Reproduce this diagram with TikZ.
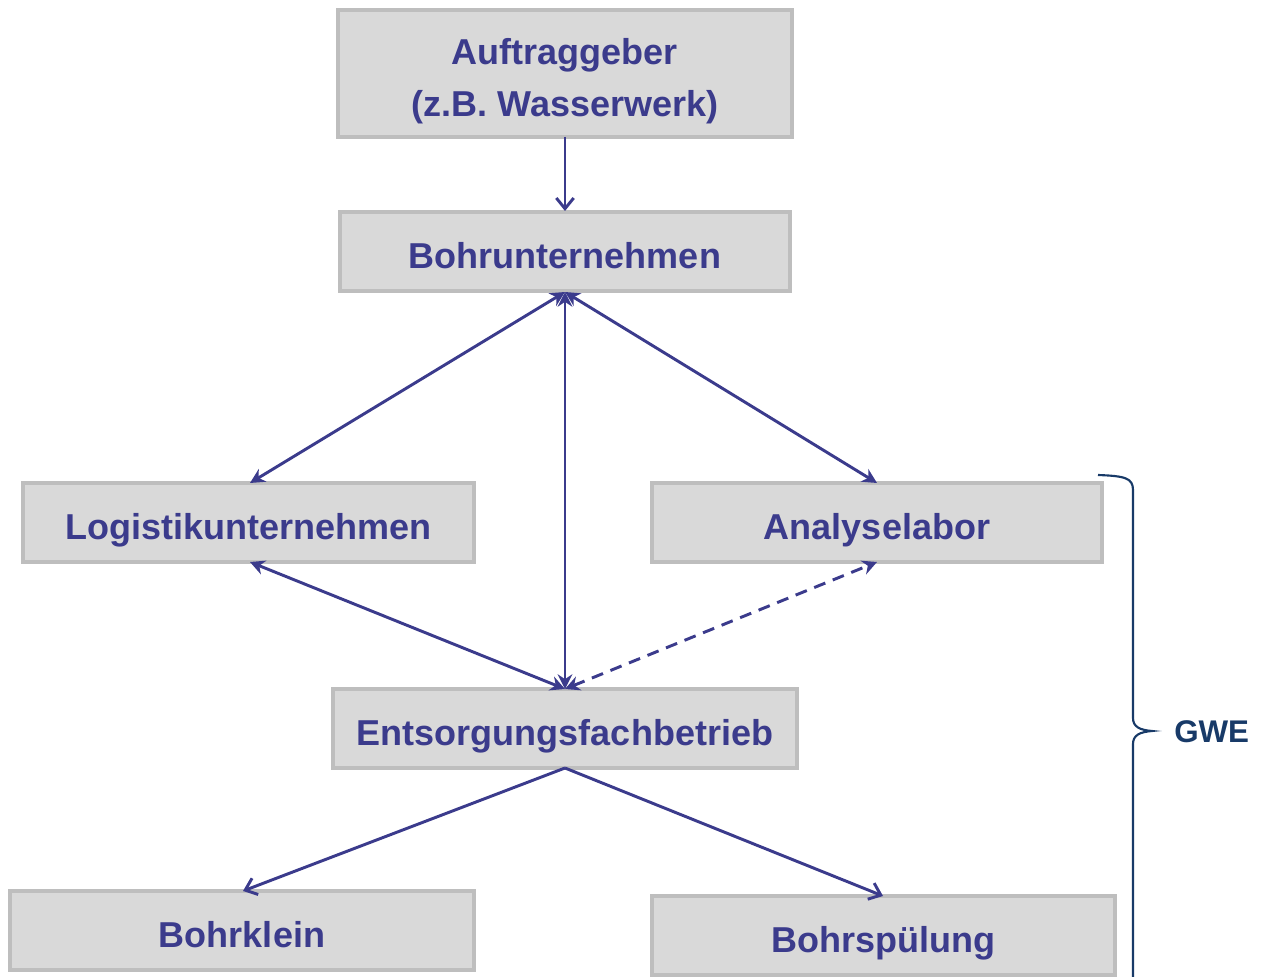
\documentclass[tikz,border=0pt]{standalone}
\usepackage{fontspec}
\setmainfont{Liberation Sans}
\usetikzlibrary{arrows.meta}
\definecolor{txtblue}{RGB}{59,59,140}
\definecolor{boxfill}{RGB}{217,217,217}
\definecolor{boxline}{RGB}{190,190,190}
\definecolor{navy}{RGB}{24,58,104}
\tikzset{
  box/.style={draw=boxline, line width=2.6pt, fill=boxfill, inner sep=0pt,
    text=txtblue, font=\fontsize{27}{39}\selectfont\bfseries, align=center,
    text height=25.6pt, text depth=0pt},
  conn/.style={draw=txtblue, line width=2.2pt},
  dhead/.style={{Stealth[length=11pt,width=11pt]}-{Stealth[length=11pt,width=11pt]}},
  vhead/.style={-{Straight Barb[length=8pt,width=13pt,line width=2.2pt]}},
}
\begin{document}
\begin{tikzpicture}[x=0.75pt,y=-0.75pt]
\useasboundingbox (0,0) rectangle (1265,977);
\clip (0,0) rectangle (1265,977);
\node[box, minimum width=454*0.75pt, minimum height=127*0.75pt, text height=65.2pt, text depth=0pt] (auf) at (565,73.5) {Auftraggeber\\(z.B. Wasserwerk)};
\node[box, minimum width=450*0.75pt, minimum height=79*0.75pt] (boh) at (565,251.5) {Bohrunternehmen};
\node[box, minimum width=451*0.75pt, minimum height=79*0.75pt] (log) at (248.5,522.5) {Logistikunternehmen};
\node[box, minimum width=450*0.75pt, minimum height=79*0.75pt] (ana) at (877,522.5) {Analyselabor};
\node[box, minimum width=464*0.75pt, minimum height=79*0.75pt] (ent) at (565,728.5) {Entsorgungsfachbetrieb};
\node[box, minimum width=464*0.75pt, minimum height=79*0.75pt] (bk) at (242,930.5) {Bohrklein};
\node[box, minimum width=463*0.75pt, minimum height=79*0.75pt] (bs) at (883.5,935.5) {Bohrspülung};

\coordinate (bohB) at (565,292);
\coordinate (logT) at (250,483);
\coordinate (anaT) at (877,483);
\coordinate (entT) at (565,689);
\coordinate (logB) at (250,562);
\coordinate (anaB) at (877,562);
\coordinate (entB) at (565,768);
\coordinate (aufB) at (565,137);
\coordinate (bohT) at (565,211);
\coordinate (bkT) at (243,891);
\coordinate (bsT) at (883,896);

\draw[conn, vhead] (aufB) -- (bohT);
\draw[conn, dhead] (bohB) -- (logT);
\draw[conn, dhead] (bohB) -- (anaT);
\draw[conn, dhead] (bohB) -- (entT);
\draw[conn, dhead] (logB) -- (entT);
\draw[conn, dhead, dash pattern=on 9pt off 6pt] (entT) -- (anaB);
\draw[conn, vhead] (entB) -- (bkT);
\draw[conn, vhead] (entB) -- (bsT);

\coordinate (brS) at (1098,475);
\coordinate (brT) at (1152,731);
\draw[navy, line width=1.6pt] (brS) .. controls (1125,476) and (1133,478) .. (1133,490)
  -- (1133,718) .. controls (1133,727) and (1140,730) .. (brT)
  .. controls (1140,732) and (1133,735) .. (1133,744) -- (1133,1000);
\node[text=navy, font=\fontsize{23.5}{28}\selectfont\bfseries, anchor=west, inner sep=0pt] (gwe) at (1174,732) {GWE};
\end{tikzpicture}
\end{document}
